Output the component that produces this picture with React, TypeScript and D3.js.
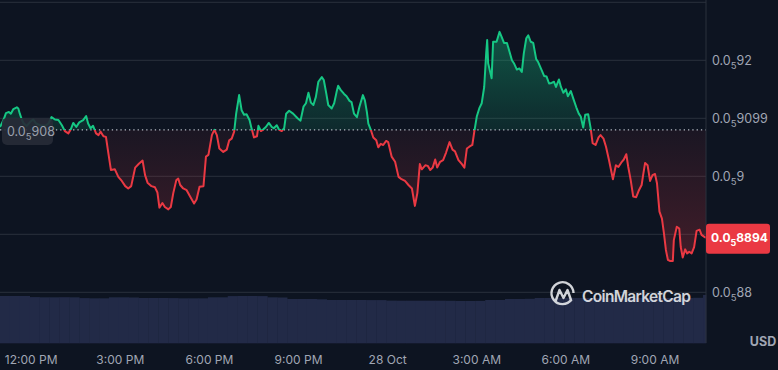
import React from 'react';
import * as d3 from 'd3';

// price, in units of 0.0₅ (i.e. 0.9085 -> 0.0₅9085), minutes after 27 Oct 10:57
const minutes = [
  0, 7, 12, 18, 22, 27, 34, 37, 40, 44, 48, 54, 61, 67, 73, 81, 91, 98, 104, 111,
  118, 125, 131, 138, 143, 148, 154, 160, 168, 174, 178, 183, 188, 194, 199, 203, 209, 214, 219, 224,
  232, 239, 246, 253, 259, 265, 269, 273, 281, 288, 293, 298, 306, 313, 318, 322, 328, 333, 340, 345,
  350, 356, 360, 364, 370, 377, 384, 392, 397, 403, 411, 416, 421, 428, 433, 438, 443, 451, 458, 463,
  468, 473, 477, 483, 488, 493, 498, 504, 508, 513, 519, 522, 527, 532, 537, 543, 549, 553, 559, 564,
  569, 574, 578, 584, 592, 601, 607, 613, 618, 623, 628, 633, 638, 643, 650, 654, 659, 663, 670, 675,
  680, 683, 688, 695, 700, 706, 710, 715, 721, 726, 733, 737, 741, 744, 749, 754, 760, 764, 769, 774,
  780, 784, 791, 798, 805, 811, 818, 825, 832, 838, 843, 848, 852, 859, 864, 869, 874, 879, 883, 889,
  895, 901, 908, 914, 919, 926, 933, 938, 943, 948, 954, 958, 963, 968, 973, 978, 982, 984, 986, 990,
  993, 996, 1003, 1009, 1013, 1018, 1024, 1029, 1034, 1038, 1044, 1049, 1054, 1058, 1063, 1067, 1072, 1077, 1083, 1087,
  1094, 1099, 1104, 1109, 1114, 1119, 1123, 1129, 1133, 1138, 1143, 1147, 1153, 1158, 1164, 1169, 1173, 1178, 1182, 1188,
  1193, 1197, 1203, 1209, 1213, 1219, 1224, 1230, 1238, 1244, 1249, 1256, 1260, 1265, 1269, 1274, 1279, 1285, 1290, 1296,
  1299, 1303, 1308, 1313, 1318, 1323, 1327, 1332, 1337, 1341, 1345, 1349, 1353, 1359, 1361, 1367, 1372, 1375, 1379, 1384,
  1388, 1392, 1397, 1402, 1407, 1413, 1417, 1422, 1426
];

const prices = [
  0.9085, 0.9097, 0.9109, 0.9111, 0.9108, 0.9116, 0.9119, 0.9117, 0.9108, 0.9098, 0.9091, 0.9087, 0.9094, 0.9098, 0.9091, 0.9088, 0.9087, 0.9091, 0.9102, 0.9098,
  0.9097, 0.9088, 0.9078, 0.9074, 0.9081, 0.9092, 0.9085, 0.9093, 0.9097, 0.9104, 0.9091, 0.9083, 0.9087, 0.9074, 0.9071, 0.9077, 0.9069, 0.9068, 0.9039, 0.9011,
  0.9012, 0.8999, 0.8992, 0.8983, 0.8979, 0.8983, 0.8999, 0.9015, 0.9022, 0.9027, 0.9002, 0.8989, 0.8983, 0.8981, 0.8972, 0.8946, 0.8954, 0.8947, 0.8943, 0.8947,
  0.8971, 0.8993, 0.8996, 0.8985, 0.8979, 0.8976, 0.8965, 0.8953, 0.896, 0.8982, 0.8983, 0.9034, 0.9037, 0.9071, 0.908, 0.9071, 0.9048, 0.9042, 0.9046, 0.9062,
  0.9065, 0.9077, 0.9108, 0.914, 0.9114, 0.9106, 0.9107, 0.9097, 0.9083, 0.9067, 0.9069, 0.9087, 0.9078, 0.9081, 0.9085, 0.9092, 0.9085, 0.9083, 0.9088, 0.908,
  0.9078, 0.9083, 0.9108, 0.9113, 0.9108, 0.91, 0.9096, 0.912, 0.9126, 0.9144, 0.9127, 0.9123, 0.9137, 0.9163, 0.9171, 0.9166, 0.9143, 0.9123, 0.9117, 0.9126,
  0.9146, 0.9156, 0.9149, 0.9142, 0.9138, 0.913, 0.9128, 0.9108, 0.9102, 0.912, 0.914, 0.9131, 0.9111, 0.9091, 0.908, 0.9067, 0.9062, 0.905, 0.9056, 0.9054,
  0.9061, 0.9059, 0.9034, 0.9025, 0.8999, 0.8995, 0.8992, 0.8985, 0.8979, 0.8949, 0.8971, 0.9021, 0.9012, 0.9019, 0.9018, 0.9011, 0.9015, 0.9029, 0.9015, 0.9025,
  0.9028, 0.9041, 0.9059, 0.9046, 0.9043, 0.9028, 0.9021, 0.9015, 0.9048, 0.9051, 0.9054, 0.9077, 0.9103, 0.9117, 0.9126, 0.9154, 0.9212, 0.9235, 0.9195, 0.918,
  0.9169, 0.9232, 0.9232, 0.9249, 0.9241, 0.923, 0.923, 0.9215, 0.92, 0.9195, 0.9184, 0.9186, 0.918, 0.9212, 0.9238, 0.9243, 0.9232, 0.923, 0.9202, 0.9197,
  0.9183, 0.9173, 0.9172, 0.916, 0.9161, 0.9163, 0.9154, 0.9167, 0.9154, 0.9144, 0.915, 0.9138, 0.9147, 0.9134, 0.9119, 0.9108, 0.9103, 0.9084, 0.9106, 0.9107,
  0.9083, 0.9057, 0.9054, 0.9067, 0.9071, 0.9065, 0.9051, 0.9028, 0.8995, 0.9019, 0.9016, 0.9025, 0.9029, 0.9038, 0.9016, 0.8993, 0.8965, 0.8964, 0.8975, 0.8985,
  0.9002, 0.9023, 0.9019, 0.8992, 0.9002, 0.9004, 0.8988, 0.8939, 0.8927, 0.8902, 0.8873, 0.8856, 0.8854, 0.8854, 0.889, 0.8913, 0.891, 0.8878, 0.886, 0.8874,
  0.8867, 0.887, 0.8867, 0.8878, 0.8906, 0.8908, 0.8899, 0.8896, 0.8894
];

// volume, one bar per 20 minutes (millions)
const volumes = [
  4.73, 4.73, 4.73, 4.62, 4.6, 4.6, 4.61, 4.6, 4.52, 4.5, 4.5, 4.6, 4.6, 4.58, 4.53, 4.53, 4.53, 4.52,
  4.5, 4.5, 4.5, 4.6, 4.6, 4.72, 4.73, 4.73, 4.72, 4.6, 4.58, 4.43, 4.43, 4.43, 4.4, 4.33, 4.33, 4.33,
  4.33, 4.32, 4.32, 4.27, 4.26, 4.26, 4.26, 4.26, 4.26, 4.25, 4.23, 4.23, 4.24, 4.33, 4.33, 4.43, 4.43, 4.45,
  4.53, 4.53, 4.53, 4.54, 4.53, 4.53, 4.53, 4.54, 4.53, 4.53, 4.54, 4.53, 4.53, 4.53, 4.54, 4.53, 4.55, 4.83
];

const openPrice = 0.908;
const openDigits = '908';
const lastDigits = '8894';
const yTickValues = [0.92, 0.91, 0.9, 0.89, 0.88];
const yTickDigits = ['92', '9099', '9', '89', '88'];
const gridValues = [0.93, 0.92, 0.91, 0.9, 0.89, 0.88];

const START = new Date(2024, 9, 27, 10, 57);
const addMin = (m: number) => new Date(START.getTime() + m * 60000);

const W = 706;
const GREEN = '#16c784';
const RED = '#ea3943';
const LABEL = '#a0a6b4';

function SubLabel({ x, y, digits, fill, weight = 400, size = 12.5 }: any) {
  return (
    <text x={x} y={y} fill={fill} fontSize={size} fontWeight={weight} dominantBaseline="central">
      <tspan>0.0</tspan>
      <tspan fontSize={size - 3} dy={5}>5</tspan>
      <tspan dy={-5}>{digits}</tspan>
    </text>
  );
}

export default function App() {
  const x = d3.scaleTime().domain([START, addMin(minutes[minutes.length - 1])]).range([0, W]);
  const y = d3.scaleLinear().domain([0.88, 0.92]).range([292.3, 60.3]);
  const yv = d3.scaleLinear().domain([0, 5]).range([343.3, 293.3]);

  const pts = minutes.map((m, i) => ({ t: addMin(m), p: prices[i] }));
  const base = y(openPrice);
  const line = d3.line<any>().x(d => x(d.t)).y(d => y(d.p));
  const area = d3.area<any>().x(d => x(d.t)).y0(base).y1(d => y(d.p));

  const ticks = x.ticks(d3.timeHour.every(3) as any);
  const fmt = (d: Date) => d.getHours() === 0 ? d3.timeFormat('%-d %b')(d) : d3.timeFormat('%-I:%M %p')(d);

  const last = prices[prices.length - 1];
  const lastY = y(last);

  return (
    <svg width={778} height={370} style={{ position: 'absolute', left: 0, top: 0, background: '#0d1421' }}
      fontFamily="Inter, 'Noto Sans', sans-serif">
      <defs>
        <clipPath id="above"><rect x={0} y={0} width={W} height={base} /></clipPath>
        <clipPath id="below"><rect x={0} y={base} width={W} height={343 - base} /></clipPath>
        <linearGradient id="gGreen" gradientUnits="userSpaceOnUse" x1={0} x2={0} y1={y(d3.max(prices)!)} y2={base}>
          <stop offset="0" stopColor={GREEN} stopOpacity={0.36} />
          <stop offset="1" stopColor={GREEN} stopOpacity={0.12} />
        </linearGradient>
        <linearGradient id="gRed" gradientUnits="userSpaceOnUse" x1={0} x2={0} y1={base} y2={y(d3.min(prices)!)}>
          <stop offset="0" stopColor={RED} stopOpacity={0.06} />
          <stop offset="1" stopColor={RED} stopOpacity={0.24} />
        </linearGradient>
      </defs>

      {gridValues.map(v => (
        <line key={v} x1={0} x2={W} y1={y(v)} y2={y(v)} stroke="#2a303d" strokeWidth={1} />
      ))}

      {volumes.map((v, i) => {
        const x0 = x(addMin(i * 20));
        const x1 = Math.min(W, x(addMin(i * 20 + 20)));
        return <rect key={i} x={x0} y={yv(v)} width={Math.max(0, x1 - x0 + 0.3)} height={yv(0) - yv(v)} fill="#222a47" />;
      })}

      <path d={area(pts)!} fill="url(#gGreen)" clipPath="url(#above)" />
      <path d={area(pts)!} fill="url(#gRed)" clipPath="url(#below)" />

      <line x1={0} x2={W} y1={base} y2={base} stroke="#b8bcc6" strokeWidth={1.3} strokeDasharray="1.3 3" />

      <path d={line(pts)!} fill="none" stroke={GREEN} strokeWidth={2} strokeLinejoin="round" clipPath="url(#above)" />
      <path d={line(pts)!} fill="none" stroke={RED} strokeWidth={2} strokeLinejoin="round" clipPath="url(#below)" />

      <g opacity={0.9} fill="none" stroke="#e6e8ec">
        <path d="M 571.5 299.5 A 11 11 0 1 1 573.5 293" strokeWidth={2.4} />
        <path d="M 556 300 L 559.5 290 L 563.5 298 L 567.5 290 L 571 300" strokeWidth={2.4} strokeLinejoin="round" strokeLinecap="round" />
        <text x={582} y={301.5} fill="#e6e8ec" stroke="none" fontSize={15.5} fontWeight={600} textLength={109}>CoinMarketCap</text>
      </g>

      <line x1={W} x2={W} y1={0} y2={343} stroke="#2a303d" strokeWidth={1} />

      {yTickValues.map((v, i) =>
        Math.abs(y(v) - lastY) < 18 ? null : (
          <SubLabel key={v} x={712} y={y(v)} digits={yTickDigits[i]} fill={LABEL} />
        )
      )}

      <rect x={2} y={base - 12} width={51} height={27} rx={5} fill="#262b37" opacity={0.92} />
      <SubLabel x={7} y={base + 1} digits={openDigits} fill="#9aa0ad" />

      <rect x={706} y={lastY - 14} width={64} height={30} rx={3} fill={RED} />
      <SubLabel x={711} y={lastY - 1} digits={lastDigits} fill="#ffffff" weight={700} size={12} />

      {ticks.map(t => (
        <text key={t.getTime()} x={x(t)} y={359} fill={LABEL} fontSize={12} textAnchor="middle" dominantBaseline="central">
          {fmt(t)}
        </text>
      ))}
      <text x={763} y={341} fill={LABEL} fontSize={12.5} fontWeight={700} textAnchor="middle" dominantBaseline="central">USD</text>
    </svg>
  );
}
